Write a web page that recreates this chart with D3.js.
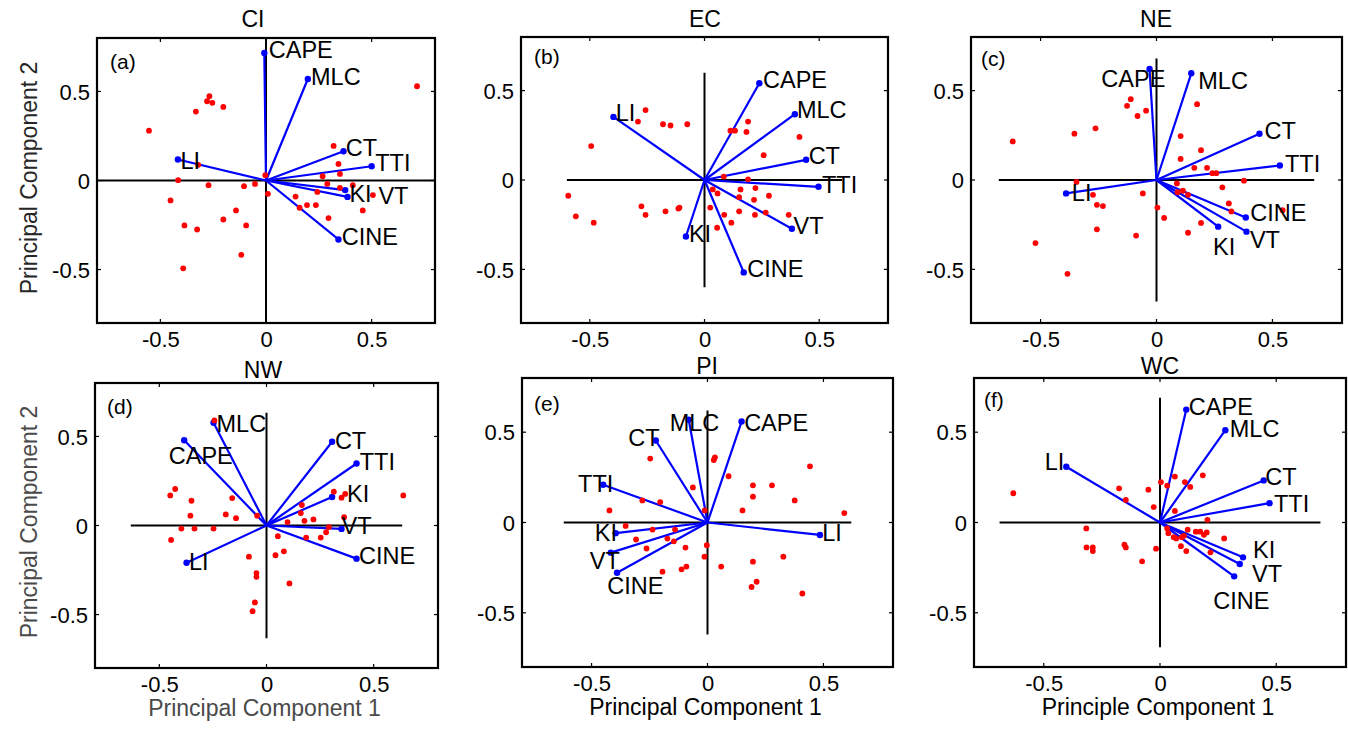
<!DOCTYPE html>
<html>
<head>
<meta charset="utf-8">
<script src="https://cdn.jsdelivr.net/npm/d3@7"></script>
<style>
  html, body { margin: 0; padding: 0; background: #fff; }
  svg { display: block; font-family: "Liberation Sans", Arial, Helvetica, sans-serif; }
</style>
</head>
<body>
<svg id="fig" width="1348" height="731"></svg>
<script>
// Variables shown as loading vectors in every biplot
const variables = ["CAPE", "MLC", "CT", "TTI", "KI", "VT", "CINE", "LI"];

const regions = ["CI", "EC", "NE", "NW", "PI", "WC"];
const tags = ["(a)", "(b)", "(c)", "(d)", "(e)", "(f)"];

const tickValues = [-0.5, 0, 0.5];
const tickLabels = ["-0.5", "0", "0.5"];

// Loadings [PC1, PC2], in the order of `variables`
const loadingsCI = [[-0.008, 0.716], [0.198, 0.570], [0.367, 0.164], [0.500, 0.080],
                    [0.375, -0.054], [0.386, -0.092], [0.343, -0.331], [-0.417, 0.118]];
const loadingsEC = [[0.239, 0.541], [0.394, 0.368], [0.443, 0.113], [0.497, -0.038],
                    [-0.081, -0.316], [0.381, -0.273], [0.171, -0.517], [-0.397, 0.353]];
const loadingsNE = [[-0.030, 0.621], [0.150, 0.597], [0.444, 0.259], [0.532, 0.081],
                    [0.266, -0.261], [0.388, -0.289], [0.385, -0.210], [-0.390, -0.075]];
const loadingsNW = [[-0.384, 0.479], [-0.247, 0.577], [0.306, 0.470], [0.420, 0.348],
                    [0.306, 0.160], [0.350, -0.019], [0.420, -0.186], [-0.373, -0.209]];
const loadingsPI = [[0.147, 0.559], [-0.081, 0.569], [-0.223, 0.454], [-0.450, 0.209],
                    [-0.396, -0.059], [-0.417, -0.167], [-0.390, -0.278], [0.485, -0.069]];
const loadingsWC = [[0.113, 0.625], [0.281, 0.511], [0.446, 0.233], [0.471, 0.107],
                    [0.357, -0.193], [0.343, -0.230], [0.319, -0.298], [-0.403, 0.309]];

// Where each variable name sits (left edge, vertical middle), in PC units
const namePosCI = [[0.013, 0.738], [0.213, 0.585], [0.378, 0.183], [0.517, 0.099],
                   [0.395, -0.073], [0.532, -0.082], [0.359, -0.316], [-0.405, 0.114]];
const namePosEC = [[0.255, 0.564], [0.403, 0.395], [0.454, 0.135], [0.512, -0.023],
                   [-0.068, -0.297], [0.388, -0.254], [0.186, -0.498], [-0.387, 0.380]];
const namePosNE = [[-0.238, 0.568], [0.180, 0.559], [0.466, 0.278], [0.554, 0.090],
                   [0.244, -0.373], [0.403, -0.332], [0.404, -0.182], [-0.365, -0.069]];
const namePosNW = [[-0.456, 0.393], [-0.233, 0.571], [0.319, 0.477], [0.435, 0.359],
                   [0.376, 0.177], [0.350, -0.002], [0.432, -0.171], [-0.362, -0.203]];
const namePosPI = [[0.158, 0.556], [-0.163, 0.556], [-0.342, 0.472], [-0.558, 0.213],
                   [-0.486, -0.056], [-0.508, -0.213], [-0.432, -0.348], [0.495, -0.056]];
const namePosWC = [[0.124, 0.642], [0.300, 0.519], [0.453, 0.257], [0.490, 0.107],
                   [0.400, -0.147], [0.396, -0.283], [0.229, -0.430], [-0.496, 0.340]];

// Observation scores [PC1, PC2]
const scoresCI = [[0.715, 0.529], [-0.554, 0.280], [-0.268, 0.473], [-0.279, 0.445], [-0.254, 0.436],
  [-0.332, 0.387], [-0.202, 0.413], [-0.321, 0.088], [-0.416, 0.002], [-0.003, 0.030],
  [-0.452, -0.112], [-0.272, -0.026], [-0.104, -0.032], [-0.052, -0.019], [0.009, -0.075],
  [0.320, 0.194], [0.343, 0.093], [0.268, 0.024], [0.350, 0.037], [0.290, -0.019],
  [0.350, -0.041], [0.411, -0.026], [0.243, -0.064], [0.506, -0.082], [0.140, -0.090],
  [0.159, -0.153], [0.194, -0.138], [0.236, -0.138], [0.458, -0.168], [0.296, -0.211],
  [-0.142, -0.168], [-0.202, -0.219], [-0.386, -0.252], [-0.326, -0.275], [-0.094, -0.252],
  [-0.117, -0.417], [-0.392, -0.493]];
const scoresEC = [[-0.257, 0.391], [-0.290, 0.327], [-0.181, 0.312], [-0.148, 0.305], [-0.075, 0.312],
  [-0.494, 0.190], [0.190, 0.327], [0.113, 0.276], [0.133, 0.276], [0.183, 0.269],
  [0.414, 0.241], [0.258, 0.139], [0.084, 0.019], [0.190, 0.004], [0.036, -0.053],
  [0.057, -0.075], [0.157, -0.053], [0.222, -0.045], [0.151, -0.096], [0.216, -0.111],
  [0.281, -0.088], [-0.594, -0.088], [-0.561, -0.203], [-0.483, -0.239], [-0.275, -0.147],
  [-0.257, -0.195], [-0.170, -0.175], [-0.114, -0.160], [-0.109, -0.154], [0.025, -0.154],
  [0.086, -0.195], [0.151, -0.175], [0.220, -0.195], [0.267, -0.182], [0.367, -0.195],
  [0.117, -0.239], [0.055, -0.267]];
const scoresNE = [[-0.620, 0.216], [-0.354, 0.259], [-0.263, 0.289], [-0.111, 0.452], [-0.127, 0.415],
  [-0.082, 0.358], [-0.045, 0.388], [0.175, 0.424], [0.104, 0.246], [0.192, 0.167],
  [0.104, 0.118], [0.163, 0.068], [0.218, 0.068], [0.241, 0.038], [0.258, 0.038],
  [0.377, -0.004], [0.284, -0.041], [0.088, -0.019], [0.091, -0.068], [0.114, -0.060],
  [0.136, -0.083], [0.312, -0.131], [0.323, -0.176], [0.544, -0.169], [-0.059, -0.075],
  [-0.345, -0.011], [-0.274, -0.083], [-0.257, -0.139], [-0.231, -0.146], [0.004, -0.154],
  [0.033, -0.212], [0.192, -0.240], [0.136, -0.295], [-0.088, -0.311], [-0.257, -0.276],
  [-0.522, -0.353], [-0.384, -0.525]];
const scoresNW = [[-0.243, 0.590], [-0.449, 0.169], [-0.426, 0.205], [-0.350, 0.139], [-0.355, 0.055],
  [-0.160, 0.154], [-0.190, 0.062], [-0.142, 0.041], [-0.044, 0.055], [-0.397, -0.017],
  [-0.336, -0.017], [-0.247, -0.017], [-0.445, -0.081], [0.165, 0.115], [0.160, 0.070],
  [0.098, 0.019], [0.177, 0.026], [0.219, 0.034], [0.314, 0.190], [0.350, 0.156],
  [0.367, 0.177], [0.638, 0.169], [0.362, 0.047], [0.291, -0.009], [0.278, -0.038],
  [0.253, -0.068], [0.185, -0.068], [0.053, -0.060], [0.042, -0.167], [0.081, -0.145],
  [-0.082, -0.175], [-0.047, -0.267], [-0.047, -0.288], [0.107, -0.325], [-0.054, -0.432],
  [-0.065, -0.481]];
const scoresPI = [[0.032, 0.361], [0.027, 0.346], [-0.247, 0.354], [0.091, 0.256], [-0.063, 0.194],
  [0.196, 0.206], [0.278, 0.206], [0.196, 0.143], [0.442, 0.311], [0.376, 0.122],
  [-0.281, 0.122], [-0.204, 0.113], [-0.423, 0.067], [-0.012, 0.067], [0.151, 0.067],
  [0.590, 0.052], [-0.353, -0.019], [-0.237, -0.039], [-0.140, -0.039], [-0.308, -0.094],
  [-0.173, -0.089], [-0.145, -0.104], [-0.263, -0.144], [-0.095, -0.139], [-0.003, -0.126],
  [-0.013, -0.189], [0.059, -0.244], [-0.091, -0.244], [-0.112, -0.259], [-0.194, -0.272],
  [0.196, -0.217], [0.327, -0.189], [0.212, -0.328], [0.190, -0.357], [0.409, -0.393]];
const scoresWC = [[-0.631, 0.162], [-0.176, 0.189], [-0.147, 0.125], [-0.050, 0.182], [-0.027, 0.085],
  [0.004, 0.224], [0.031, 0.204], [0.064, 0.254], [0.107, 0.224], [0.130, 0.197],
  [0.184, 0.261], [0.064, 0.064], [0.204, 0.015], [-0.317, -0.033], [-0.316, -0.138],
  [-0.289, -0.138], [-0.289, -0.158], [-0.153, -0.123], [-0.147, -0.138], [-0.017, -0.145],
  [-0.077, -0.215], [0.031, -0.033], [0.036, -0.059], [0.059, -0.081], [0.070, -0.088],
  [0.094, -0.081], [0.103, -0.074], [0.119, -0.040], [0.154, -0.051], [0.173, -0.051],
  [0.189, -0.068], [0.201, -0.055], [0.276, -0.088], [0.090, -0.131], [0.113, -0.158],
  [0.217, -0.165]];

// Half-length of the PC axis lines drawn through the origin
const axisHalfLength = [0.80, 0.60, 0.68, 0.633, 0.62, 0.69];

const axisLabelX = ["Principal Component 1", "Principal Component 1", "Principle Component 1"];
const axisLabelY = "Principal Component 2";

const loadings = [loadingsCI, loadingsEC, loadingsNE, loadingsNW, loadingsPI, loadingsWC];
const namePos = [namePosCI, namePosEC, namePosNE, namePosNW, namePosPI, namePosWC];
const scores = [scoresCI, scoresEC, scoresNE, scoresNW, scoresPI, scoresWC];

// Axes boxes (pixels) for the 2 x 3 grid
const boxes = [
  { l: 97,  t: 38,  r: 435,  b: 323, titleX: 253, titleY: 27, tagDx: 13, tagDy: 31 },
  { l: 521, t: 37,  r: 888,  b: 323, titleX: 705, titleY: 27, tagDx: 13, tagDy: 27 },
  { l: 971, t: 37,  r: 1342, b: 323, titleX: 1156, titleY: 27, tagDx: 10, tagDy: 29 },
  { l: 95,  t: 383, r: 438,  b: 668, titleX: 263, titleY: 378, tagDx: 12, tagDy: 31 },
  { l: 522, t: 378, r: 893,  b: 667, titleX: 707, titleY: 374, tagDx: 12, tagDy: 33 },
  { l: 974, t: 378, r: 1346, b: 667, titleX: 1160, titleY: 374, tagDx: 10, tagDy: 29 }
];

const svg = d3.select("#fig");
const FONT = 22;
const TICK = 4;

boxes.forEach((box, i) => {
  const x = d3.scaleLinear().domain([-0.8, 0.8]).range([box.l, box.r]);
  const y = d3.scaleLinear().domain([-0.8, 0.8]).range([box.b, box.t]);
  const g = svg.append("g");

  const clipId = "clip" + i;
  svg.append("clipPath").attr("id", clipId)
    .append("rect").attr("x", box.l).attr("y", box.t)
    .attr("width", box.r - box.l).attr("height", box.b - box.t);

  // Tick labels via d3 axes (tick marks drawn separately, pointing inward)
  const xAxis = d3.axisBottom(x).tickValues(tickValues)
    .tickFormat((d, k) => tickLabels[k]).tickSize(0).tickPadding(0);
  const gx = g.append("g").attr("transform", `translate(0,${box.b})`).call(xAxis);
  gx.select(".domain").remove();
  gx.selectAll("text").attr("y", 24).attr("dy", null)
    .attr("font-size", FONT).attr("fill", "#000")
    .attr("font-family", "Liberation Sans, Arial, sans-serif");

  const yAxis = d3.axisLeft(y).tickValues(tickValues)
    .tickFormat((d, k) => tickLabels[k]).tickSize(0).tickPadding(0);
  const gy = g.append("g").attr("transform", `translate(${box.l},0)`).call(yAxis);
  gy.select(".domain").remove();
  gy.selectAll("text").attr("x", -7).attr("dy", "0.35em")
    .attr("font-size", FONT).attr("fill", "#000")
    .attr("font-family", "Liberation Sans, Arial, sans-serif");

  // Inward tick marks on all four sides
  const tk = g.append("g").attr("stroke", "#000").attr("stroke-width", 1.2);
  tickValues.forEach(v => {
    tk.append("line").attr("x1", x(v)).attr("x2", x(v)).attr("y1", box.b).attr("y2", box.b - TICK);
    tk.append("line").attr("x1", x(v)).attr("x2", x(v)).attr("y1", box.t).attr("y2", box.t + TICK);
    tk.append("line").attr("y1", y(v)).attr("y2", y(v)).attr("x1", box.l).attr("x2", box.l + TICK);
    tk.append("line").attr("y1", y(v)).attr("y2", y(v)).attr("x1", box.r).attr("x2", box.r - TICK);
  });

  const plot = g.append("g").attr("clip-path", `url(#${clipId})`);

  // PC axes through the origin
  const h = axisHalfLength[i];
  plot.append("line").attr("x1", x(-h)).attr("x2", x(h)).attr("y1", y(0)).attr("y2", y(0))
    .attr("stroke", "#000").attr("stroke-width", 2);
  plot.append("line").attr("x1", x(0)).attr("x2", x(0)).attr("y1", y(-h)).attr("y2", y(h))
    .attr("stroke", "#000").attr("stroke-width", 2);

  // Loading vectors
  const L = loadings[i];
  plot.selectAll("line.vec").data(L).enter().append("line").attr("class", "vec")
    .attr("x1", x(0)).attr("y1", y(0))
    .attr("x2", d => x(d[0])).attr("y2", d => y(d[1]))
    .attr("stroke", "#0000ff").attr("stroke-width", 2.2);
  plot.selectAll("circle.tip").data(L).enter().append("circle").attr("class", "tip")
    .attr("cx", d => x(d[0])).attr("cy", d => y(d[1])).attr("r", 3.2)
    .attr("fill", "#0000ff");

  // Variable names
  g.selectAll("text.name").data(namePos[i]).enter().append("text").attr("class", "name")
    .attr("x", d => x(d[0])).attr("y", d => y(d[1])).attr("dy", "0.36em")
    .attr("font-size", 23.5).attr("fill", "#000")
    .text((d, k) => variables[k]);

  // Observation scores
  plot.selectAll("circle.obs").data(scores[i]).enter().append("circle").attr("class", "obs")
    .attr("cx", d => x(d[0])).attr("cy", d => y(d[1])).attr("r", 2.9)
    .attr("fill", "#ff0000");

  // Box
  g.append("rect").attr("x", box.l).attr("y", box.t)
    .attr("width", box.r - box.l).attr("height", box.b - box.t)
    .attr("fill", "none").attr("stroke", "#000").attr("stroke-width", 2.2);

  // Panel tag and region title
  g.append("text").attr("x", box.l + box.tagDx).attr("y", box.t + box.tagDy)
    .attr("font-size", 21).attr("fill", "#000").text(tags[i]);
  g.append("text").attr("x", box.titleX).attr("y", box.titleY)
    .attr("text-anchor", "middle").attr("font-size", 23).attr("fill", "#000")
    .text(regions[i]);

  // Axis titles: x on the bottom row, y on the left column
  const col = i % 3, row = Math.floor(i / 3);
  if (row === 1) {
    svg.append("text").attr("x", (box.l + box.r) / 2 - 2).attr("y", box.b + 48)
      .attr("text-anchor", "middle").attr("font-size", 23)
      .attr("fill", col === 0 ? "#4a4a4a" : "#000")
      .text(axisLabelX[col]);
  }
  if (col === 0) {
    const cy = row === 0 ? 178 : 522;
    svg.append("text").attr("transform", `translate(37,${cy}) rotate(-90)`)
      .attr("text-anchor", "middle").attr("font-size", 23)
      .attr("fill", row === 0 ? "#262626" : "#4a4a4a")
      .text(axisLabelY);
  }
});
</script>
</body>
</html>
